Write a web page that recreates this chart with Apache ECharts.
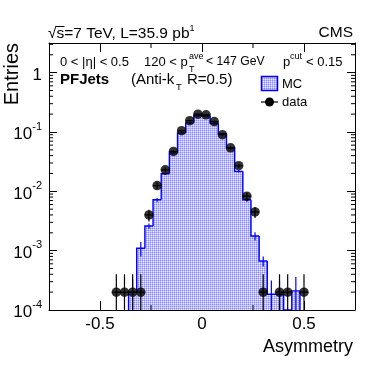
<!DOCTYPE html>
<html><head><meta charset="utf-8">
<script src="https://cdn.jsdelivr.net/npm/echarts@6/dist/echarts.min.js"></script>
<style>html,body{margin:0;padding:0;background:#fff}#c{width:374px;height:365px}</style>
</head><body><div id="c"></div>
<script>
// ---- data ----
const binWidth = 0.04;
const dataX = [-0.42,-0.38,-0.34,-0.30,-0.26,-0.22,-0.18,-0.14,-0.10,-0.06,-0.02,0.02,0.06,0.10,0.14,0.18,0.22,0.26,0.30,0.38,0.42,0.50];
const dataY = [2e-4,2e-4,2e-4,2e-4,4.0e-3,0.0125,0.023,0.047,0.105,0.155,0.200,0.195,0.150,0.090,0.054,0.027,0.0083,0.0045,2e-4,2e-4,2e-4,2e-4];
const dataErr = [2e-4,2e-4,2e-4,2e-4,9e-4,1.6e-3,2.1e-3,3.1e-3,4.6e-3,5.6e-3,6.3e-3,6.2e-3,5.5e-3,4.2e-3,3.3e-3,2.3e-3,1.3e-3,9.5e-4,2e-4,2e-4,2e-4,2e-4];
const mcX = [-0.34,-0.30,-0.26,-0.22,-0.18,-0.14,-0.10,-0.06,-0.02,0.02,0.06,0.10,0.14,0.18,0.22,0.26,0.30,0.34,0.38,0.42,0.46];
const mcY = [2.0e-4,1.1e-3,2.6e-3,7.2e-3,0.0198,0.0444,0.0966,0.1425,0.190,0.186,0.140,0.094,0.054,0.0217,0.0072,1.77e-3,6.7e-4,1.84e-4,1.84e-4,0,2.1e-4];
const mcErr = [1.3e-4,3e-4,2.6e-4,5e-4,8e-4,1.2e-3,1.8e-3,2.2e-3,2.5e-3,2.5e-3,2.2e-3,1.8e-3,1.4e-3,9e-4,5e-4,2.8e-4,1.3e-4,1.3e-4,1.3e-4,0,1.5e-4];
const xTickLabels = [-0.5, 0, 0.5];
const xMinorTicks = [-0.25, 0.25];
const yMinorTicks = [];
for (let k = -4; k <= 0; k++) for (let m = 2; m <= 9; m++) { const v = m * Math.pow(10, k); if (v < 3.1) yMinorTicks.push(v); }

const FONT = 'Liberation Sans, Arial, Helvetica, sans-serif';
function makePattern(){
  const c = document.createElement('canvas'); c.width = 2; c.height = 2;
  const g = c.getContext('2d');
  g.fillStyle = '#e6e6ff'; g.fillRect(0,0,2,2);
  g.fillStyle = '#bcbcfb'; g.fillRect(1,0,1,1); g.fillRect(0,1,1,1);
  g.fillStyle = '#8c8cf4'; g.fillRect(0,0,1,1);
  return c;
}
const pattern = {image: makePattern(), repeat: 'repeat'};
const BLUE = '#0000ff';

const chart = echarts.init(document.getElementById('c'), null, {renderer: 'canvas'});

function supLabel(v){
  const e = Math.round(Math.log10(v));
  if (Math.abs(Math.log10(v) - e) > 1e-6) return '';
  if (e === 0) return '{b|1}';
  return '{b|10}{s|' + e + '}';
}

const axisLineStyle = {show: true, onZero: false, lineStyle: {color: '#000', width: 1}};
function txt(x, y, text, size, extra){
  return Object.assign({type: 'text', x: x, y: y, style: Object.assign({text: text, fontSize: size, fontFamily: FONT, fill: '#000', verticalAlign: 'middle'}, extra || {})});
}
const option = {
  animation: false,
  grid: {left: 49, right: 19, top: 43, bottom: 55, containLabel: false},
  xAxis: [
    {type: 'value', min: -0.75, max: 0.75, position: 'bottom',
     axisLine: axisLineStyle, splitLine: {show: false},
     axisTick: {show: true, inside: true, length: 9, customValues: xTickLabels, lineStyle: {color: '#000'}},
     axisLabel: {show: true, customValues: xTickLabels, margin: 6, color: '#000', fontSize: 17, fontFamily: FONT,
       formatter: v => (Math.abs(v) < 1e-9 ? '0' : String(v))}},
    {type: 'value', min: -0.75, max: 0.75, position: 'top',
     axisLine: axisLineStyle, splitLine: {show: false},
     axisTick: {show: true, inside: true, length: 9, customValues: xTickLabels, lineStyle: {color: '#000'}},
     axisLabel: {show: false}}
  ],
  yAxis: [
    {type: 'log', logBase: 10, min: 1e-4, max: 3.16, position: 'left',
     axisLine: axisLineStyle, splitLine: {show: false},
     axisTick: {show: true, inside: true, length: 8, lineStyle: {color: '#000'}},
     axisLabel: {show: true, margin: 7, color: '#000', fontFamily: FONT, formatter: supLabel,
       rich: {b: {fontSize: 17, fontFamily: FONT, color: '#000', lineHeight: 22, verticalAlign: 'bottom'},
              s: {fontSize: 11, fontFamily: FONT, color: '#000', lineHeight: 22, verticalAlign: 'top'}}}},
    {type: 'log', logBase: 10, min: 1e-4, max: 3.16, position: 'right',
     axisLine: axisLineStyle, splitLine: {show: false},
     axisTick: {show: true, inside: true, length: 8, lineStyle: {color: '#000'}},
     axisLabel: {show: false}}
  ],
  series: [
    {type: 'custom', name: 'MC', z: 1, clip: true,
     data: mcX.map((x, i) => [x, mcY[i]]),
     renderItem(params, api){
       const cs = params.coordSys; const bottom = cs.y + cs.height;
       const x = api.value(0), v = api.value(1);
       const xl = api.coord([x - binWidth/2, 1])[0], xr = api.coord([x + binWidth/2, 1])[0];
       const yt = v > 0 ? api.coord([x, v])[1] : bottom;
       return {type: 'rect', shape: {x: xl, y: yt, width: xr - xl + 0.6, height: bottom - yt}, style: {fill: pattern}};
     }},
    {type: 'custom', name: 'MC outline', z: 2, clip: true,
     data: mcX.map((x, i) => [x, mcY[i]]),
     renderItem(params, api){
       const cs = params.coordSys; const bottom = cs.y + cs.height;
       const i = params.dataIndex;
       const x = api.value(0), v = api.value(1);
       const xl = api.coord([x - binWidth/2, 1])[0], xr = api.coord([x + binWidth/2, 1])[0];
       const yt = v > 0 ? api.coord([x, v])[1] : bottom;
       const pv = i > 0 ? mcY[i-1] : 0;
       const yp = pv > 0 ? api.coord([x, pv])[1] : bottom;
       const pts = [[xl, yp], [xl, yt], [xr, yt]];
       if (i === mcX.length - 1) pts.push([xr, bottom]);
       return {type: 'polyline', shape: {points: pts}, style: {stroke: BLUE, lineWidth: 1.4, fill: null}};
     }},
    {type: 'custom', name: 'MC err', z: 3, clip: true,
     data: mcX.map((x, i) => [x, mcY[i], mcErr[i]]),
     renderItem(params, api){
       const cs = params.coordSys; const bottom = cs.y + cs.height;
       const x = api.value(0), v = api.value(1), e = api.value(2);
       if (!(v > 0) || !(e > 0)) return null;
       const px = api.coord([x, v])[0];
       const yh = api.coord([x, v + e])[1];
       const yl = (v - e) > 0 ? api.coord([x, v - e])[1] : bottom;
       return {type: 'line', shape: {x1: px, y1: yh, x2: px, y2: Math.min(yl, bottom)}, style: {stroke: BLUE, lineWidth: 1.2}};
     }},
    {type: 'custom', name: 'data err', z: 4, clip: true,
     data: dataX.map((x, i) => [x, dataY[i], dataErr[i]]),
     renderItem(params, api){
       const cs = params.coordSys; const bottom = cs.y + cs.height;
       const x = api.value(0), v = api.value(1), e = api.value(2);
       const p = api.coord([x, v]);
       const yh = api.coord([x, v + e])[1];
       const yl = (v - e) > 0 ? api.coord([x, v - e])[1] : bottom;
       const xl = api.coord([x - binWidth/2, v])[0], xr = api.coord([x + binWidth/2, v])[0];
       return {type: 'group', children: [
         {type: 'line', shape: {x1: p[0], y1: yh, x2: p[0], y2: Math.min(yl, bottom)}, style: {stroke: '#000', lineWidth: 1.2}},
         {type: 'line', shape: {x1: xl, y1: p[1], x2: xr, y2: p[1]}, style: {stroke: '#000', lineWidth: 1.2}}
       ]};
     }},
    {type: 'scatter', name: 'data', z: 5, symbol: 'circle', symbolSize: 9.5,
     itemStyle: {color: '#000'}, data: dataX.map((x, i) => [x, dataY[i]])},
    {type: 'custom', name: 'yminor', z: 6, silent: true,
     data: yMinorTicks.map(v => [0, v]),
     renderItem(params, api){
       const cs = params.coordSys;
       const y = api.coord([0, api.value(1)])[1];
       return {type: 'group', children: [
         {type: 'line', shape: {x1: cs.x, y1: y, x2: cs.x + 4, y2: y}, style: {stroke: '#000', lineWidth: 1}},
         {type: 'line', shape: {x1: cs.x + cs.width - 4, y1: y, x2: cs.x + cs.width, y2: y}, style: {stroke: '#000', lineWidth: 1}}
       ]};
     }},
    {type: 'custom', name: 'xminor', z: 6, silent: true,
     data: xMinorTicks.map(v => [v, 1e-3]),
     renderItem(params, api){
       const cs = params.coordSys;
       const x = api.coord([api.value(0), 1e-3])[0];
       return {type: 'group', children: [
         {type: 'line', shape: {x1: x, y1: cs.y + cs.height, x2: x, y2: cs.y + cs.height - 5}, style: {stroke: '#000', lineWidth: 1}},
         {type: 'line', shape: {x1: x, y1: cs.y, x2: x, y2: cs.y + 5}, style: {stroke: '#000', lineWidth: 1}}
       ]};
     }}
  ],
  graphic: [
    {type: 'text', x: 48, y: 33, style: {text: '{n|√s=7 TeV, L=35.9 pb}{s|1}', verticalAlign: 'middle',
      rich: {n: {fontSize: 15.5, fontFamily: FONT, fill: '#000', lineHeight: 18, verticalAlign: 'bottom'},
             s: {fontSize: 9, fontFamily: FONT, fill: '#000', lineHeight: 18, verticalAlign: 'top'}}}},
    {type: 'line', shape: {x1: 56, y1: 26.5, x2: 64.5, y2: 26.5}, style: {stroke: '#000', lineWidth: 1}},
    txt(353, 33, 'CMS', 15.5, {align: 'right'}),
    txt(60, 62, '0 < |η| < 0.5', 13),
    txt(144, 62, '120 < p', 13),
    txt(189, 70, 'T', 9),
    txt(189, 57, 'ave', 9),
    txt(206, 62, '< 147 GeV', 12.2),
    txt(283, 62, 'p', 13),
    txt(290, 57, 'cut', 9),
    txt(306, 62, '< 0.15', 13),
    txt(60, 80, 'PFJets', 15, {fontWeight: 'bold'}),
    txt(131, 80, '(Anti-k', 15),
    txt(176, 87, 'T', 9.5),
    txt(187, 80, 'R=0.5)', 15),
    {type: 'rect', shape: {x: 261.5, y: 76.5, width: 16, height: 14}, style: {fill: pattern, stroke: BLUE, lineWidth: 1.5}},
    txt(282, 84, 'MC', 13),
    {type: 'line', shape: {x1: 261, y1: 102, x2: 278, y2: 102}, style: {stroke: '#000', lineWidth: 1.2}},
    {type: 'circle', shape: {cx: 269.5, cy: 102, r: 4.5}, style: {fill: '#000'}},
    txt(282, 102, 'data', 13),
    {type: 'text', x: 12, y: 43, rotation: Math.PI / 2, style: {text: 'Entries', fontSize: 20, fontFamily: FONT, fill: '#000', align: 'right', verticalAlign: 'middle'}},
    txt(353, 347, 'Asymmetry', 18, {align: 'right'})
  ]
};
chart.setOption(option);
</script>
</body></html>
